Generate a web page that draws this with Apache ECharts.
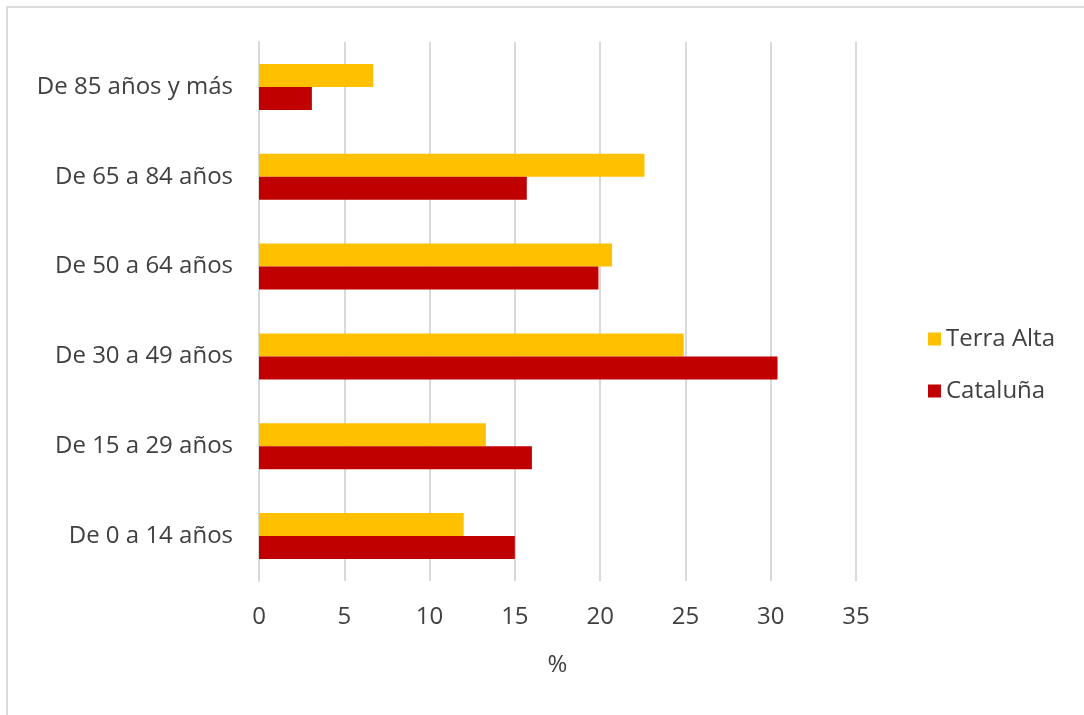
<!DOCTYPE html>
<html>
<head>
<meta charset="utf-8">
<script src="https://cdn.jsdelivr.net/npm/echarts@6/dist/echarts.min.js"></script>
<style>
  html, body { margin: 0; padding: 0; background: #fff; }
  #frame { position: absolute; left: 0; top: 0; width: 1084px; height: 715px; }
  #edge { position: absolute; left: 6px; top: 6px; width: 1078px; height: 709px;
          border-left: 2px solid #dcdcdc; border-top: 2px solid #dcdcdc; box-sizing: border-box; }
  #chartTrend { position: absolute; left: 0; top: 0; width: 1084px; height: 715px; }
</style>
</head>
<body>
<div id="frame">
  <div id="edge"></div>
  <div id="chartTrend"></div>
</div>
<script>
// grupos de edad (de abajo arriba)
var ageGroups = ['De 0 a 14 años', 'De 15 a 29 años', 'De 30 a 49 años', 'De 50 a 64 años', 'De 65 a 84 años', 'De 85 años y más'];
// porcentajes
var dataCataluna = [15.0, 16.0, 30.4, 19.9, 15.7, 3.1];
var dataTerraAlta = [12.0, 13.3, 24.9, 20.7, 22.6, 6.7];
var xTicks = [0, 5, 10, 15, 20, 25, 30, 35];

var labelFont = '"Open Sans", "Noto Sans", sans-serif';

var dom = document.getElementById('chartTrend');
var myChart = echarts.init(dom);
var option = {
    animation: false,
    legend: {
        orient: 'vertical',
        left: 923,
        top: 322,
        itemWidth: 13,
        itemHeight: 13,
        itemGap: 28,
        icon: 'rect',
        textStyle: { color: '#404040', fontSize: 24, fontFamily: labelFont },
        data: ['Terra Alta', 'Cataluña']
    },
    grid: {
        left: 259,
        right: 228,
        top: 42,
        bottom: 134
    },
    xAxis: {
        type: 'value',
        min: xTicks[0],
        max: xTicks[xTicks.length - 1],
        interval: 5,
        name: '%',
        nameLocation: 'middle',
        nameGap: 72,
        nameTextStyle: { color: '#404040', fontSize: 24, fontFamily: labelFont },
        axisLine: { show: false },
        axisTick: { show: false },
        axisLabel: { color: '#404040', fontSize: 24, fontFamily: labelFont, margin: 24 },
        splitLine: { lineStyle: { color: '#d9d9d9', width: 2 } }
    },
    yAxis: {
        type: 'category',
        data: ageGroups,
        axisLine: { show: true, lineStyle: { color: '#d9d9d9', width: 2 } },
        axisTick: { show: false },
        axisLabel: { color: '#404040', fontSize: 24, fontFamily: labelFont, margin: 26 }
    },
    series: [
        {
            name: 'Terra Alta',
            type: 'bar',
            data: dataTerraAlta,
            barWidth: 23,
            barGap: '0%',
            itemStyle: { color: '#ffc000' }
        },
        {
            name: 'Cataluña',
            type: 'bar',
            data: dataCataluna,
            barWidth: 23,
            barGap: '0%',
            itemStyle: { color: '#c00000' }
        }
    ]
};
myChart.setOption(option, true);
</script>
</body>
</html>
